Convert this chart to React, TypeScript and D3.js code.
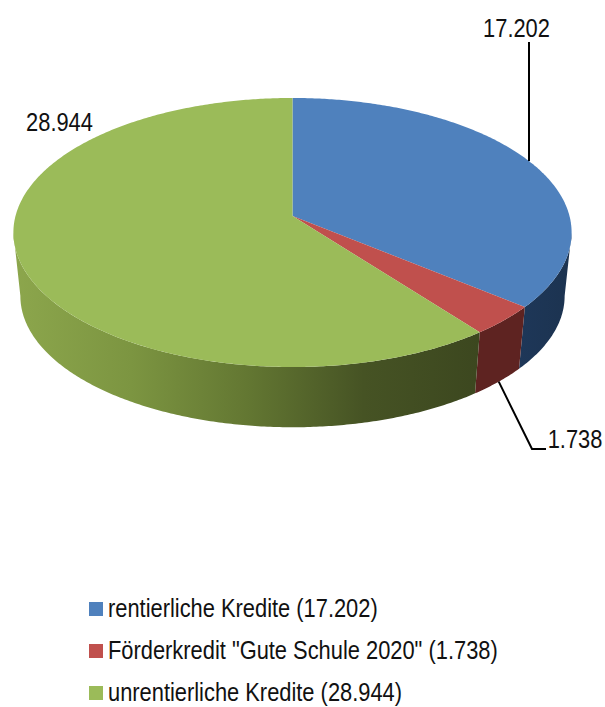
import * as d3 from 'd3';

const categories = ['rentierliche Kredite', 'Förderkredit "Gute Schule 2020"', 'unrentierliche Kredite'];
const values = [17202, 1738, 28944];
const valueLabels = ['17.202', '1.738', '28.944'];
const topColors = ['#4f81bd', '#c0504d', '#9bbb59'];
// side wall gradient stops, left to right
const sideColors = [
  ['#1f3a5f', '#1c3350'],
  ['#5e2321', '#5e2321'],
  ['#8ca64c', '#7c9541', '#637732', '#465324', '#3c471f'],
];

const WIDTH = 605;
const HEIGHT = 707;
const FONT = '"Liberation Sans", Arial, sans-serif';
const FONT_SIZE = 25;
const NARROW = 0.875; // no narrow font here, so squeeze the text

// projection of the tilted disc
const cx = 292.5;
const cy = 216;
const rx = 277;
const ry = 132.5;
const persp = 0.1227;
const depth = 64;
const bottomScale = 0.975;

function project(angle: number, wall = false): [number, number] {
  const u = Math.sin(angle);
  const v = -Math.cos(angle);
  const d = 1 - persp * v;
  const s = wall ? bottomScale : 1;
  return [cx + (s * rx * u) / d, cy + (wall ? depth : 0) + (s * ry * v) / d];
}

function arcPoints(a0: number, a1: number, wall = false) {
  const n = Math.max(2, Math.ceil(Math.abs(a1 - a0) / 0.01));
  return d3.range(n + 1).map((i) => project(a0 + ((a1 - a0) * i) / n, wall));
}

const line = d3.line();
const pie = d3.pie<number>().sort(null);
const slices = pie(values);

// part of the rim that faces the viewer
const samples = d3.range(0, 2 * Math.PI, 0.002);
const rightEdge = d3.greatest(samples, (a) => project(a)[0]) as number;
const leftEdge = d3.least(samples, (a) => project(a)[0]) as number;

const legendY = d3.scalePoint<number>().domain([0, 1, 2]).range([609, 693]);

function Label({ x, y, anchor, children }: { x: number; y: number; anchor?: string; children: React.ReactNode }) {
  return (
    <text
      transform={`translate(${x},${y}) scale(${NARROW},1)`}
      textAnchor={anchor}
      fontFamily={FONT}
      fontSize={FONT_SIZE}
      fill="#111"
    >
      {children}
    </text>
  );
}

export default function App() {
  const blueRim = project((slices[0].startAngle + slices[0].endAngle) / 2 - 0.01);
  const redRim = project((slices[1].startAngle + slices[1].endAngle) / 2, true);

  return (
    <svg
      width={WIDTH}
      height={HEIGHT}
      style={{ position: 'absolute', left: 0, top: 0, background: '#fff' }}
    >
      <defs>
        {sideColors.map((stops, i) => (
          <linearGradient
            key={i}
            id={`side-${i}`}
            gradientUnits="userSpaceOnUse"
            x1={i === 2 ? 15 : 480}
            x2={i === 2 ? 480 : 570}
            y1={0}
            y2={0}
          >
            {stops.map((c, j) => (
              <stop key={j} offset={j / (stops.length - 1)} stopColor={c} />
            ))}
          </linearGradient>
        ))}
      </defs>

      {/* side walls */}
      {slices.map((s, i) => {
        const a0 = Math.max(s.startAngle, rightEdge);
        const a1 = Math.min(s.endAngle, leftEdge);
        const pts = [...arcPoints(a0, a1), ...arcPoints(a1, a0, true)];
        return <path key={i} d={line(pts) + 'Z'} fill={`url(#side-${i})`} />;
      })}

      {/* top face */}
      {slices.map((s, i) => (
        <path
          key={i}
          d={line([[cx, cy], ...arcPoints(s.startAngle, s.endAngle)]) + 'Z'}
          fill={topColors[i]}
        />
      ))}

      {/* leader lines */}
      <path
        d={line([blueRim, [blueRim[0], 42]]) as string}
        fill="none"
        stroke="#000"
        strokeWidth={2}
      />
      <path
        d={line([redRim, [532, 449], [546, 449]]) as string}
        fill="none"
        stroke="#000"
        strokeWidth={2}
      />

      <Label x={516.5} y={37} anchor="middle">{valueLabels[0]}</Label>
      <Label x={575} y={448} anchor="middle">{valueLabels[1]}</Label>
      <Label x={59.5} y={131} anchor="middle">{valueLabels[2]}</Label>

      {/* legend */}
      {categories.map((c, i) => (
        <g key={c}>
          <rect x={89} y={legendY(i)! - 7} width={14} height={14} fill={topColors[i]} />
          <Label x={108} y={legendY(i)! + 8}>
            {c} ({valueLabels[i]})
          </Label>
        </g>
      ))}
    </svg>
  );
}
